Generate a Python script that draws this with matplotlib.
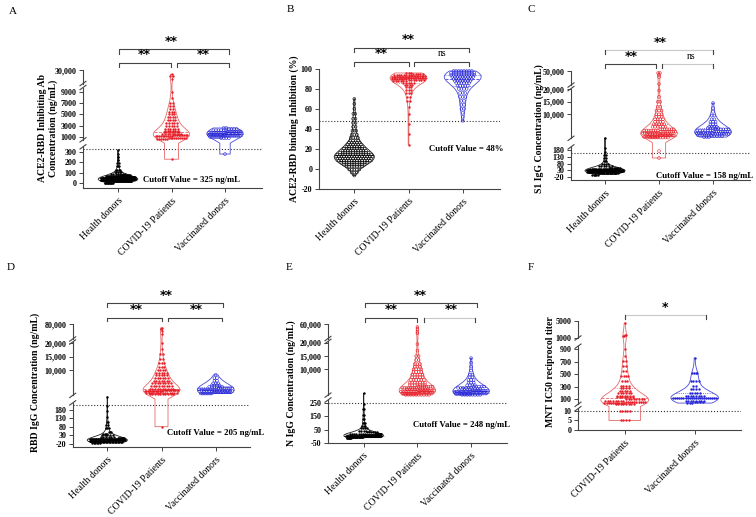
import numpy as np
import matplotlib
matplotlib.use("Agg")
import matplotlib.pyplot as plt
from matplotlib.transforms import blended_transform_factory

plt.rcParams['font.family'] = 'Liberation Serif'

W, H = 756, 517
groups = ["Health donors", "COVID-19 Patients", "Vaccinated donors"]

# ---- values (value levels and number of dots at each level) ----
a_health_v = [5, 15, 25, 35, 45, 55, 65, 75, 90, 110, 130, 160, 190, 220, 250, 280, 320]
a_health_n = [12, 25, 38, 45, 40, 28, 16, 10, 7, 5, 4, 3, 2, 2, 2, 1, 1]
a_covid_v = [230, 700, 900, 1100, 1300, 1500, 1800, 2100, 2500, 3000, 3500, 4000, 4500,
             5000, 5500, 6000, 6500, 7000, 8000, 9000, 18000, 22000, 24000]
a_covid_n = [1, 6, 10, 10, 9, 8, 7, 6, 6, 5, 5, 4, 4, 3, 3, 2, 2, 2, 1, 1, 1, 2, 1]
a_vacc_v = [280, 800, 1000, 1200, 1400, 1600, 1800, 2000, 2200, 2400, 2600]
a_vacc_n = [1, 4, 8, 11, 13, 12, 11, 9, 6, 4, 2]

b_health_v = [-7, -4, -1, 2, 4, 6, 8, 10, 12, 14, 16, 18, 20, 22, 24, 26, 28, 31, 34,
              38, 42, 46, 50, 55, 60, 65, 70]
b_health_n = [1, 3, 5, 7, 9, 11, 13, 14, 15, 14, 12, 10, 9, 7, 6, 5, 4, 4, 3, 3, 2, 2, 2, 2, 1, 1, 1]
b_covid_v = [24, 35, 45, 55, 62, 68, 72, 76, 79, 82, 84, 86, 88, 89, 90, 91, 92, 93, 94, 95, 96]
b_covid_n = [1, 1, 1, 1, 1, 2, 2, 3, 3, 3, 4, 5, 6, 7, 9, 11, 12, 10, 8, 5, 3]
b_vacc_v = [48, 52, 56, 60, 64, 68, 72, 76, 80, 83, 86, 88, 90, 92, 94, 96, 98]
b_vacc_n = [1, 1, 1, 2, 2, 2, 3, 3, 4, 5, 6, 7, 8, 9, 10, 10, 8]

c_health_v = [0, 10, 20, 25, 30, 35, 40, 50, 60, 80, 100, 120, 140, 160, 190, 600]
c_health_n = [5, 15, 30, 35, 35, 25, 15, 10, 6, 4, 3, 2, 2, 1, 1, 1]
c_covid_v = [120, 170, 700, 1000, 1500, 2000, 2500, 3000, 3500, 4000, 5000, 6000, 7000, 8000,
             9000, 10000, 11500, 13000, 15000, 17000, 19500, 24000, 38000, 42000, 46000]
c_covid_n = [1, 1, 8, 12, 12, 10, 9, 8, 7, 7, 6, 5, 4, 4, 3, 3, 3, 2, 2, 1, 1, 1, 1, 1, 2]
c_vacc_v = [900, 1300, 1700, 2100, 2500, 3000, 3500, 4000, 4500, 5000, 6000, 7000, 8000,
            9500, 11000, 12500, 14500]
c_vacc_n = [3, 5, 7, 8, 8, 8, 7, 6, 5, 4, 3, 3, 2, 2, 1, 1, 1]

d_health_v = [-15, -10, -5, 0, 5, 10, 15, 20, 30, 40, 50, 70, 90, 110, 140, 170, 200, 450]
d_health_n = [6, 15, 22, 22, 18, 12, 8, 6, 5, 4, 3, 3, 2, 2, 1, 1, 1, 1]
d_covid_v = [80, 1000, 1500, 2000, 2500, 3000, 4000, 5000, 6000, 7000, 8000, 9000, 10000,
             11000, 12500, 14000, 16000, 18000, 20000, 40000, 55000, 62000, 66000]
d_covid_n = [1, 10, 14, 14, 12, 10, 9, 8, 7, 6, 5, 5, 4, 3, 3, 2, 2, 1, 1, 1, 1, 1, 1]
d_vacc_v = [1200, 1700, 2200, 2700, 3200, 3700, 4300, 5000, 6000, 7000, 8200]
d_vacc_n = [8, 12, 12, 10, 8, 6, 4, 3, 2, 2, 1]

e_health_v = [-10, -5, 0, 5, 10, 15, 20, 30, 40, 60, 80, 100, 130, 160, 200, 240, 1000]
e_health_n = [8, 20, 30, 28, 20, 12, 8, 6, 5, 4, 3, 3, 2, 2, 2, 1, 1]
e_covid_v = [400, 800, 1200, 1600, 2000, 2500, 3000, 3500, 4000, 5000, 6000, 7000, 8000, 9000,
             10000, 11000, 12000, 13500, 15000, 17000, 19500, 36000, 40000, 47000, 53000]
e_covid_n = [10, 12, 12, 11, 10, 9, 8, 8, 7, 7, 6, 5, 5, 4, 4, 3, 3, 2, 2, 1, 1, 1, 1, 1, 1]
e_vacc_v = [400, 800, 1200, 1600, 2000, 2500, 3000, 3500, 4000, 5000, 6000, 7000, 8000,
            9500, 11000, 12500, 14200]
e_vacc_n = [8, 12, 12, 10, 9, 8, 6, 5, 4, 3, 3, 2, 2, 1, 1, 1, 1]

f_covid_v = [5, 10, 25, 40, 60, 80, 100, 130, 160, 200, 240, 280, 320, 400, 480, 560, 640,
             720, 800, 900, 1400, 1600, 4500]
f_covid_n = [4, 5, 8, 10, 10, 8, 8, 7, 7, 6, 5, 4, 4, 3, 4, 2, 2, 2, 1, 1, 2, 2, 1]
f_vacc_v = [40, 60, 80, 120, 160, 200, 260, 320, 400, 520, 760]
f_vacc_n = [3, 4, 8, 22, 8, 5, 4, 2, 4, 4, 1]

a_ticks = [0, 100, 200, 300, 1000, 3000, 5000, 7000, 9000, 30000]
b_ticks = [-20, 0, 20, 40, 60, 80, 100]
c_ticks = [-20, 30, 80, 130, 180, 10000, 15000, 20000, 50000]
d_ticks = [-20, 30, 80, 130, 180, 10000, 15000, 20000, 80000]
e_ticks = [-50, 50, 150, 250, 10000, 15000, 20000, 60000]
f_ticks = [0, 5, 10, 100, 300, 500, 700, 900, 1000, 5000]

RED, BLUE, BLACK = '#e8202a', '#2626d8', '#000000'
LINE = '#444444'
FAINT = '#c8c8c8'

panels = [
    dict(letter='A', lxy=(9, 11), box=(83, 262, 70, 188), cat0=118, sp=53.5, cats=groups,
         data=[(a_health_v, a_health_n), (a_covid_v, a_covid_n), (a_vacc_v, a_vacc_n)],
         kv=[-48, 350, 500, 9800, 11000, 30000], kp=[188, 146.8, 139.8, 87.5, 83.5, 70],
         ticks=a_ticks, ylabel="ACE2-RBD Inhibiting Ab\nConcentration (ng/mL)", ylxy=(48, 128),
         cutoff=325, ctext="Cutoff Value = 325 ng/mL", cxy=(143, 180),
         marks=[(BLACK, True), (RED, True), (BLUE, False)],
         brackets=[(0.02, 2.07, 49.3, 53.5, '**', 41.5, 1.0, LINE),
                   (0.02, 0.99, 63.3, 67.0, '**', 54.5, 0.5, LINE),
                   (1.10, 2.07, 63.3, 67.0, '**', 54.5, 1.6, LINE)]),
    dict(letter='B', lxy=(287, 10), box=(318.7, 500, 69, 188.5), cat0=354.3, sp=54.2, cats=groups,
         data=[(b_health_v, b_health_n), (b_covid_v, b_covid_n), (b_vacc_v, b_vacc_n)],
         kv=[-20, 100], kp=[188.5, 69],
         ticks=b_ticks, ylabel="ACE2-RBD binding Inhibition (%)", ylxy=(293.7, 129),
         cutoff=48, ctext="Cutoff Value = 48%", cxy=(429, 149),
         marks=[(BLACK, False), (RED, True), (BLUE, False)],
         brackets=[(0.0, 2.11, 47.7, 51.5, '**', 39.5, 1.0, LINE),
                   (0.0, 1.0, 61.7, 65.5, '**', 53.5, 0.5, LINE),
                   (1.1, 2.11, 61.7, 65.5, 'ns', 53.5, 1.62, LINE)]),
    dict(letter='C', lxy=(528, 10), box=(571, 750, 71, 180.1), cat0=605, sp=54, cats=groups,
         data=[(c_health_v, c_health_n), (c_covid_v, c_covid_n), (c_vacc_v, c_vacc_n)],
         kv=[-40, 200, 400, 20300, 22000, 50000], kp=[180.1, 146.9, 138.3, 88.6, 85.0, 71],
         ticks=c_ticks, ylabel="S1 IgG Concentration (ng/mL)", ylxy=(539, 129),
         cutoff=158, ctext="Cutoff Value = 158 ng/mL", cxy=(655.7, 176),
         marks=[(BLACK, True), (RED, False), (BLUE, False)],
         brackets=[(0.0, 2.0, 50.0, 53.5, '**', 42.7, 1.02, FAINT),
                   (0.0, 0.95, 64.3, 67.5, '**', 56.0, 0.49, LINE),
                   (1.06, 2.0, 64.3, 67.5, 'ns', 56.0, 1.6, FAINT)]),
    dict(letter='D', lxy=(7, 268), box=(72.7, 250, 324.3, 446.7), cat0=107.3, sp=54.2, cats=groups,
         data=[(d_health_v, d_health_n), (d_covid_v, d_covid_n), (d_vacc_v, d_vacc_n)],
         kv=[-37.6, 220, 500, 20500, 22000, 80000], kp=[446.7, 402.9, 395.4, 342.0, 339.0, 324.3],
         ticks=d_ticks, ylabel="RBD IgG Concentration (ng/mL)", ylxy=(35, 382),
         cutoff=205, ctext="Cutoff Value = 205 ng/mL", cxy=(166.7, 433),
         marks=[(BLACK, True), (RED, True), (BLUE, False)],
         brackets=[(0.0, 2.13, 303.3, 307.0, '**', 295.0, 1.08, LINE),
                   (0.0, 1.0, 317.7, 321.5, '**', 309.3, 0.53, LINE),
                   (1.12, 2.11, 317.7, 321.5, '**', 309.3, 1.64, LINE)]),
    dict(letter='E', lxy=(286, 268), box=(328, 507, 324.3, 443), cat0=363.7, sp=53.7, cats=groups,
         data=[(e_health_v, e_health_n), (e_covid_v, e_covid_n), (e_vacc_v, e_vacc_n)],
         kv=[-50, 270, 300, 20500, 22000, 60000], kp=[443, 400.0, 395.1, 341.4, 338.5, 324.3],
         ticks=e_ticks, ylabel="N IgG Concentration (ng/mL)", ylxy=(291.3, 383),
         cutoff=248, ctext="Cutoff Value = 248 ng/mL", cxy=(412.7, 425),
         marks=[(BLACK, True), (RED, False), (BLUE, False)],
         brackets=[(0.03, 2.11, 303.3, 307.0, '**', 295.0, 1.05, LINE),
                   (0.03, 1.0, 317.7, 321.5, '**', 309.3, 0.51, LINE),
                   (1.12, 2.08, 317.7, 321.5, '**', 309.3, 1.63, FAINT)]),
    dict(letter='F', lxy=(528, 268), box=(578, 741, 321, 430.3), cat0=624.7, sp=70, cats=groups[1:],
         data=[(f_covid_v, f_covid_n), (f_vacc_v, f_vacc_n)],
         kv=[0, 11, 20, 950, 980, 5000], kp=[430.3, 408.7, 404.3, 346.2, 338.0, 321],
         ticks=f_ticks, ylabel="MNT IC50 reciprocol titer", ylxy=(550.7, 372),
         cutoff=10, ctext=None, cxy=None,
         marks=[(RED, True), (BLUE, True)],
         brackets=[(0.0, 1.16, 315.0, 318.5, '*', 307.7, 0.58, FAINT)]),
]


def piecewise(vals, pxs, bottom):
    v = np.asarray(vals, float)
    h = bottom - np.asarray(pxs, float)
    s0 = (h[1] - h[0]) / (v[1] - v[0])
    s1 = (h[-1] - h[-2]) / (v[-1] - v[-2])
    big = 1e7
    v2 = np.concatenate([[v[0] - big], v, [v[-1] + big]])
    h2 = np.concatenate([[h[0] - big * s0], h, [h[-1] + big * s1]])
    fwd = lambda y: np.interp(np.asarray(y, float), v2, h2)
    inv = lambda d: np.interp(np.asarray(d, float), h2, v2)
    return fwd, inv


def fmt(v):
    return f"{v:,}" if abs(v) >= 10000 else str(v)


def draw_group(ax, fwd, inv, pos, vals, color, filled, half, dx, gap, bw):
    h = fwd(vals)
    grid = np.linspace(h.min(), h.max(), 400)
    dens = np.exp(-0.5 * ((grid[:, None] - h[None, :]) / bw) ** 2).sum(1)
    # below the axis break GraphPad keeps the violin at its width in the gap
    if gap is not None and np.median(vals) > gap[1] and vals.min() < gap[1]:
        hc = 0.5 * (float(fwd(gap[0])) + float(fwd(gap[1])))
        dc = np.exp(-0.5 * ((hc - h) / bw) ** 2).sum()
        dens = np.where(grid < hc, dc, dens)
    w = dens / dens.max() * half
    ecol = {RED: '#e46a6a', BLUE: '#4a4ad8', BLACK: '#222222'}[color]
    ax.fill_betweenx(inv(grid), pos - w, pos + w, facecolor='none', edgecolor=ecol, lw=0.6, zorder=2)
    for q, ls in zip(np.percentile(h, [25, 50, 75]), [':', '--', ':']):
        wq = np.interp(q, grid, w)
        ax.plot([pos - wq, pos + wq], [inv(q)] * 2, ls=ls, color=ecol, lw=0.6, zorder=2)
    # swarm: spread dots at (about) the same height across the violin width
    xs = np.zeros(len(h))
    b = np.round(h / 2.0).astype(int)
    for k in np.unique(b):
        idx = np.where(b == k)[0]
        n = len(idx)
        if n < 2:
            continue
        wb = np.interp(h[idx].mean(), grid, w) * 0.9
        step = min(dx, 2 * wb / (n - 1))
        xs[idx] = (np.arange(n) - (n - 1) / 2) * step
    if filled:
        ax.scatter(pos + xs, vals, s=3.0, color=color, lw=0, zorder=3)
    else:
        ax.scatter(pos + xs, vals, s=4.0, facecolors='none', edgecolors=color, lw=0.4, zorder=3)


fig = plt.figure(figsize=(W / 100, H / 100), dpi=100)

for p in panels:
    L, R, T, B = p['box']
    axw, axh = R - L, B - T
    ax = fig.add_axes([L / W, 1 - B / H, axw / W, axh / H])
    fwd, inv = piecewise(p['kv'], p['kp'], B)
    ax.set_yscale('function', functions=(fwd, inv))
    ax.set_ylim(p['kv'][0], p['kv'][-1])
    ax.set_xlim((L - p['cat0']) / p['sp'], (R - p['cat0']) / p['sp'])

    gap = (p['kv'][1], p['kv'][2]) if len(p['kv']) > 2 else None
    for i, ((v, n), (col, filled)) in enumerate(zip(p['data'], p['marks'])):
        vals = np.repeat(np.asarray(v, float), n)
        half = 0.37 if col == BLACK else 0.34
        bw = 3.0 if col == BLACK else 5.5
        draw_group(ax, fwd, inv, i, vals, col, filled, half, 2.6 / p['sp'], gap, bw)

    ax.axhline(p['cutoff'], ls=':', color='#333333', lw=0.8, zorder=1)

    # axes frame
    for s in ['top', 'right', 'left']:
        ax.spines[s].set_visible(False)
    ax.spines['bottom'].set_color(LINE)
    ax.spines['bottom'].set_linewidth(0.8)
    kv = p['kv']
    pieces = [(kv[j], kv[j + 1]) for j in range(0, len(kv), 2)]
    ddx, ddy = 3.0 / axw, 2.2 / axh
    for j, (a, b2) in enumerate(pieces):
        y0, y1 = fwd(a) / axh, fwd(b2) / axh
        ax.plot([0, 0], [y0, y1], color=LINE, lw=0.8, transform=ax.transAxes, clip_on=False)
        if j < len(pieces) - 1:
            ax.plot([-ddx, ddx], [y1 - ddy, y1 + ddy], color=LINE, lw=0.8, transform=ax.transAxes, clip_on=False)
        if j > 0:
            ax.plot([-ddx, ddx], [y0 - ddy, y0 + ddy], color=LINE, lw=0.8, transform=ax.transAxes, clip_on=False)

    ax.set_yticks(p['ticks'])
    ax.set_yticklabels([fmt(t) for t in p['ticks']], fontsize=5.8, fontweight='bold')
    ax.minorticks_off()
    ax.tick_params(axis='y', length=3, width=0.7, color=LINE, pad=1.5)
    ax.set_xticks(range(len(p['cats'])))
    ax.set_xticklabels(p['cats'], rotation=45, ha='right', rotation_mode='anchor', fontsize=7)
    ax.tick_params(axis='x', length=3, width=0.7, color=LINE, pad=3)

    ax.set_ylabel(p['ylabel'], fontsize=7, fontweight='bold', va='center', linespacing=1.1)
    lx, ly = p['ylxy']
    ax.yaxis.set_label_coords((lx - L) / axw, (B - ly) / axh)

    # significance brackets
    tr = blended_transform_factory(ax.transData, ax.transAxes)
    for x0, x1, yl, yd, txt, yt, xt, col in p['brackets']:
        fy = lambda py: (B - py) / axh
        ax.plot([x0, x0, x1, x1], [fy(yd), fy(yl), fy(yl), fy(yd)], color=col, lw=0.8,
                transform=tr, clip_on=False)
        if col == FAINT:
            for xx in (x0, x1):
                ax.plot([xx, xx], [fy(yd), fy(yl)], color=LINE, lw=0.8, transform=tr, clip_on=False)
        if txt == 'ns':
            ax.text(xt, fy(yt), txt, transform=tr, ha='center', va='center', fontsize=7)
        else:
            ax.text(xt, fy(yt), txt, transform=tr, ha='center', va='center', fontsize=9,
                    fontweight='bold', family='DejaVu Sans')

    if p['ctext']:
        cx, cy = p['cxy']
        fig.text(cx / W, 1 - cy / H, p['ctext'], fontsize=6.3, fontweight='bold', va='center')
    fig.text(p['lxy'][0] / W, 1 - p['lxy'][1] / H, p['letter'], fontsize=8, va='center')

fig.savefig('out.png', dpi=100)
